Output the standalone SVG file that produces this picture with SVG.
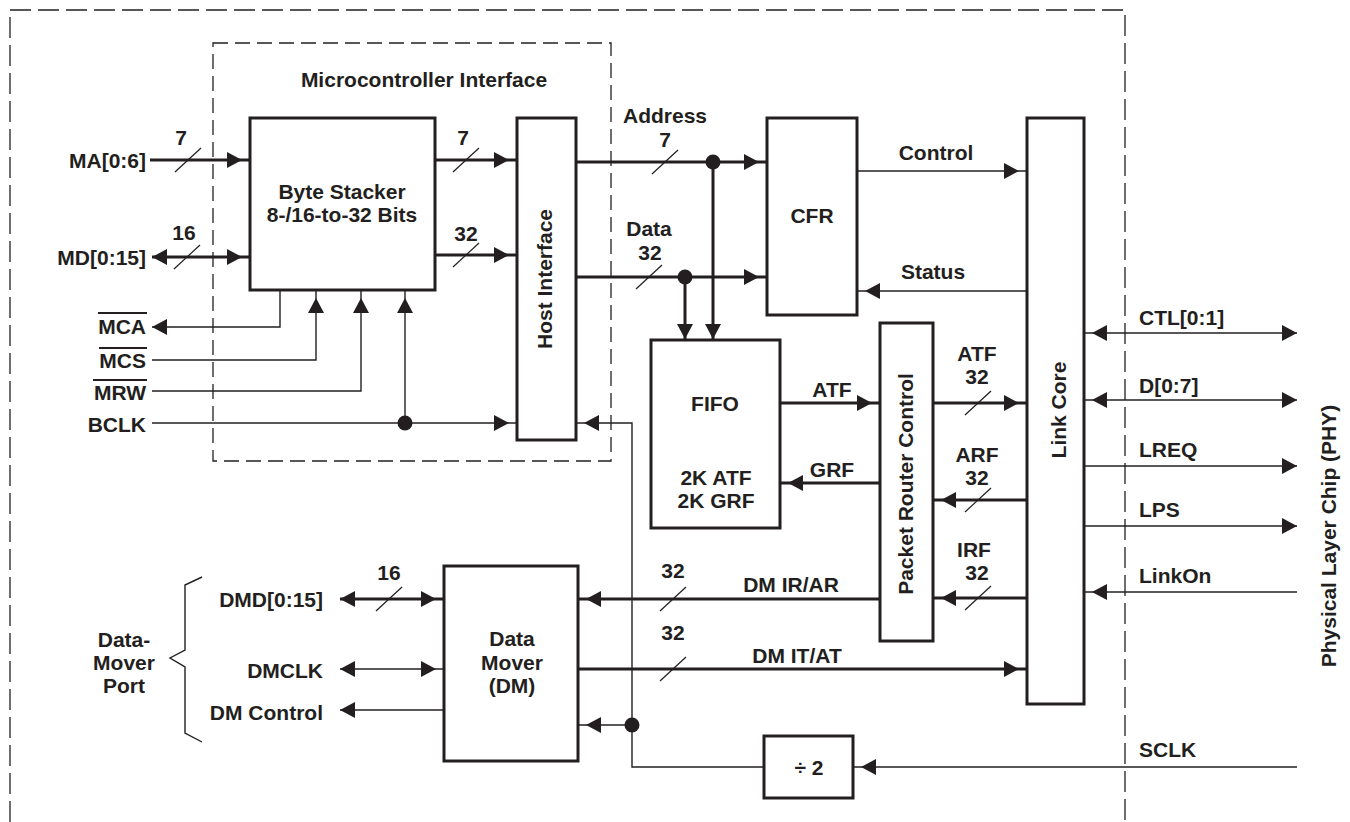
<svg xmlns="http://www.w3.org/2000/svg" width="1350" height="822" viewBox="0 0 1350 822">
<style>
text{font-family:"Liberation Sans",Arial,sans-serif;font-weight:bold;font-size:21px;fill:#231f20}
.box{fill:#fff;stroke:#231f20;stroke-width:3}
.bus{fill:none;stroke:#231f20;stroke-width:3}
.sig{fill:none;stroke:#231f20;stroke-width:1.4}
.sl{stroke:#231f20;stroke-width:1.2}
.dash{fill:none;stroke:#231f20;stroke-width:1.3}
.ov{stroke:#231f20;stroke-width:2}
.m{text-anchor:middle}
.e{text-anchor:end}
.dot{fill:#231f20}
</style>
<defs>
<marker id="af" markerUnits="userSpaceOnUse" markerWidth="15" markerHeight="16" refX="15" refY="8" orient="auto-start-reverse" overflow="visible"><path d="M0,0 L15,8 L0,16 z" fill="#231f20"/></marker>
<marker id="ai" markerUnits="userSpaceOnUse" markerWidth="15" markerHeight="16" refX="23" refY="8" orient="auto-start-reverse" overflow="visible"><path d="M0,0 L15,8 L0,16 z" fill="#231f20"/></marker>
</defs>

<g id="borders">
<path class="dash" d="M10,822 V10 H1125 V822" stroke-dasharray="21 7"/>
<rect class="dash" x="213" y="43" width="398" height="418" stroke-dasharray="15 7"/>
<text class="m" x="424" y="87">Microcontroller Interface</text>
</g>

<g id="connectors">
<!-- buses -->
<path class="bus" d="M150,160 H250" marker-end="url(#ai)"/>
<path class="bus" d="M152,257 H250" marker-start="url(#af)" marker-end="url(#ai)"/>
<path class="bus" d="M435,160 H517" marker-end="url(#ai)"/>
<path class="bus" d="M435,255 H517" marker-end="url(#ai)"/>
<path class="bus" d="M576,162 H767" marker-end="url(#ai)"/>
<path class="bus" d="M576,277 H767" marker-end="url(#ai)"/>
<path class="bus" d="M685,277 V339" marker-end="url(#af)"/>
<path class="bus" d="M713,162 V339" marker-end="url(#af)"/>
<path class="bus" d="M780,403 H880" marker-end="url(#ai)"/>
<path class="bus" d="M880,483 H780" marker-end="url(#ai)"/>
<path class="bus" d="M933,403 H1027" marker-end="url(#ai)"/>
<path class="bus" d="M1027,500 H933" marker-end="url(#ai)"/>
<path class="bus" d="M1027,598 H933" marker-end="url(#ai)"/>
<path class="bus" d="M880,599 H578" marker-end="url(#ai)"/>
<path class="bus" d="M578,669 H1027" marker-end="url(#ai)"/>
<path class="bus" d="M340,599 H444" marker-start="url(#af)" marker-end="url(#ai)"/>
<!-- signals -->
<path class="sig" d="M280,290 V327 H152" marker-end="url(#af)"/>
<path class="sig" d="M152,360 H316 V290" marker-end="url(#ai)"/>
<path class="sig" d="M152,391 H361 V290" marker-end="url(#ai)"/>
<path class="sig" d="M152,423 H517" marker-end="url(#ai)"/>
<path class="sig" d="M405,423 V290" marker-end="url(#ai)"/>
<path class="sig" d="M857,171 H1027" marker-end="url(#ai)"/>
<path class="sig" d="M1027,291 H857" marker-end="url(#ai)"/>
<path class="sig" d="M1084,333 H1297" marker-start="url(#ai)" marker-end="url(#af)"/>
<path class="sig" d="M1084,400 H1297" marker-start="url(#ai)" marker-end="url(#af)"/>
<path class="sig" d="M1084,466 H1297" marker-end="url(#af)"/>
<path class="sig" d="M1084,526 H1297" marker-end="url(#af)"/>
<path class="sig" d="M1297,592 H1084" marker-end="url(#ai)"/>
<path class="sig" d="M1297,767 H853" marker-end="url(#ai)"/>
<path class="sig" d="M764,767 H632 V423 H576" marker-end="url(#ai)"/>
<path class="sig" d="M632,725 H578" marker-end="url(#ai)"/>
<path class="sig" d="M340,669 H444" marker-start="url(#af)" marker-end="url(#ai)"/>
<path class="sig" d="M444,710 H340" marker-end="url(#af)"/>
<!-- junction dots -->
<circle class="dot" cx="405" cy="423" r="7.5"/>
<circle class="dot" cx="713" cy="162" r="7.5"/>
<circle class="dot" cx="685" cy="277" r="7.5"/>
<circle class="dot" cx="632" cy="725" r="7.5"/>
<!-- bus width slashes -->
<g class="sl">
<line x1="175" y1="172" x2="201" y2="148"/>
<line x1="174" y1="269" x2="200" y2="245"/>
<line x1="453" y1="172" x2="479" y2="148"/>
<line x1="453" y1="267" x2="479" y2="243"/>
<line x1="652" y1="174" x2="678" y2="150"/>
<line x1="636" y1="289" x2="662" y2="265"/>
<line x1="965" y1="415" x2="991" y2="391"/>
<line x1="965" y1="512" x2="991" y2="488"/>
<line x1="965" y1="610" x2="991" y2="586"/>
<line x1="660" y1="611" x2="686" y2="587"/>
<line x1="660" y1="681" x2="686" y2="657"/>
<line x1="376" y1="611" x2="402" y2="587"/>
</g>
<!-- connector labels -->
<text class="m" x="181" y="145">7</text>
<text class="m" x="184" y="240">16</text>
<text class="m" x="463" y="145">7</text>
<text class="m" x="466" y="241">32</text>
<text class="m" x="665" y="123">Address</text>
<text class="m" x="665" y="147">7</text>
<text class="m" x="649" y="236">Data</text>
<text class="m" x="650" y="260">32</text>
<text class="m" x="936" y="160">Control</text>
<text class="m" x="933" y="279">Status</text>
<text class="m" x="832" y="397">ATF</text>
<text class="m" x="832" y="477">GRF</text>
<text class="m" x="977" y="361">ATF</text>
<text class="m" x="977" y="384">32</text>
<text class="m" x="977" y="462">ARF</text>
<text class="m" x="977" y="485">32</text>
<text class="m" x="974" y="557">IRF</text>
<text class="m" x="977" y="580">32</text>
<text class="m" x="673" y="578">32</text>
<text class="m" x="791" y="592">DM IR/AR</text>
<text class="m" x="673" y="640">32</text>
<text class="m" x="797" y="663">DM IT/AT</text>
<text class="m" x="389" y="580">16</text>
</g>

<g id="left-pins">
<text class="e" x="146" y="168">MA[0:6]</text>
<text class="e" x="146" y="265">MD[0:15]</text>
<text class="e" x="146" y="334">MCA</text>
<line class="ov" x1="98" y1="313" x2="147" y2="313"/>
<text class="e" x="146" y="368">MCS</text>
<line class="ov" x1="99" y1="348" x2="147" y2="348"/>
<text class="e" x="146" y="400">MRW</text>
<line class="ov" x1="93" y1="380" x2="147" y2="380"/>
<text class="e" x="146" y="432">BCLK</text>
</g>

<g id="dm-port">
<text class="e" x="323" y="607">DMD[0:15]</text>
<text class="e" x="323" y="678">DMCLK</text>
<text class="e" x="323" y="720">DM Control</text>
<path class="sig" d="M202,577 L185,585 V650 L170,658 L185,667 V733 L202,742"/>
<text class="m" x="124" y="647">Data-</text>
<text class="m" x="124" y="670">Mover</text>
<text class="m" x="124" y="693">Port</text>
</g>

<g id="phy-pins">
<text x="1139" y="325">CTL[0:1]</text>
<text x="1139" y="393">D[0:7]</text>
<text x="1139" y="457">LREQ</text>
<text x="1139" y="517">LPS</text>
<text x="1139" y="583">LinkOn</text>
<text x="1139" y="757">SCLK</text>
<text class="m" transform="translate(1336,536) rotate(-90)">Physical Layer Chip (PHY)</text>
</g>

<g id="byte-stacker">
<rect class="box" x="250" y="118" width="185" height="172"/>
<text class="m" x="342" y="199">Byte Stacker</text>
<text class="m" x="342" y="222">8-/16-to-32 Bits</text>
</g>

<g id="host-interface">
<rect class="box" x="517" y="118" width="59" height="322"/>
<text class="m" transform="translate(552,279) rotate(-90)">Host Interface</text>
</g>

<g id="cfr">
<rect class="box" x="767" y="118" width="90" height="197"/>
<text class="m" x="812" y="223">CFR</text>
</g>

<g id="fifo">
<rect class="box" x="651" y="340" width="129" height="188"/>
<text class="m" x="715" y="411">FIFO</text>
<text class="m" x="716" y="485">2K ATF</text>
<text class="m" x="716" y="508">2K GRF</text>
</g>

<g id="packet-router-control">
<rect class="box" x="880" y="323" width="53" height="318"/>
<text class="m" transform="translate(913,484) rotate(-90)">Packet Router Control</text>
</g>

<g id="link-core">
<rect class="box" x="1027" y="118" width="57" height="586"/>
<text class="m" transform="translate(1066,410) rotate(-90)">Link Core</text>
</g>

<g id="data-mover">
<rect class="box" x="444" y="566" width="134" height="195"/>
<text class="m" x="512" y="646">Data</text>
<text class="m" x="512" y="670">Mover</text>
<text class="m" x="512" y="693">(DM)</text>
</g>

<g id="divider">
<rect class="box" x="764" y="736" width="89" height="62"/>
<text class="m" x="809" y="775">÷ 2</text>
</g>
</svg>
